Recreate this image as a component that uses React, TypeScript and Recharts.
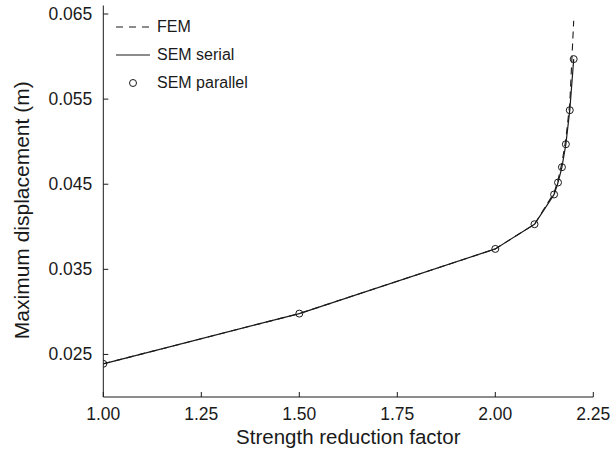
import { LineChart, Line, XAxis, YAxis, Legend } from 'recharts';

// strength reduction factor vs maximum displacement
const factors = [1.0, 1.5, 2.0, 2.1, 2.15, 2.16, 2.17, 2.18, 2.19, 2.2];
const femDisp = [0.0239, 0.0298, 0.0374, 0.0403, 0.044, 0.0455, 0.0475, 0.0503, 0.0545, 0.0642];
const serialDisp = [0.0239, 0.0298, 0.0374, 0.0403, 0.0438, 0.0452, 0.047, 0.0497, 0.0537, 0.0597];
const parallelDisp = [0.0239, 0.0298, 0.0374, 0.0403, 0.0438, 0.0452, 0.047, 0.0497, 0.0537, 0.0597];

const xTicks = [1, 1.25, 1.5, 1.75, 2, 2.25];
const yTicks = [0.025, 0.035, 0.045, 0.055, 0.065];

const FONT = '"Liberation Sans", Arial, Helvetica, sans-serif';
const INK = '#1a1a1a';

const data = factors.map((x, i) => ({
  x,
  fem: femDisp[i],
  serial: serialDisp[i],
  parallel: parallelDisp[i],
}));

const legendItems = [
  { name: 'FEM', kind: 'dash' },
  { name: 'SEM serial', kind: 'solid' },
  { name: 'SEM parallel', kind: 'dot' },
];

function XTick({ x, y, payload }: any) {
  return (
    <g>
      <line x1={x} x2={x} y1={y} y2={y - 5} stroke={INK} strokeWidth={1} />
      <text x={x} y={y + 23} textAnchor="middle" fontSize={17.5} fill={INK} fontFamily={FONT}>
        {Number(payload.value).toFixed(2)}
      </text>
    </g>
  );
}

function YTick({ x, y, payload }: any) {
  return (
    <g>
      <line x1={x} x2={x + 5} y1={y} y2={y} stroke={INK} strokeWidth={1} />
      <text x={x - 11} y={y + 6} textAnchor="end" fontSize={17.5} fill={INK} fontFamily={FONT}>
        {Number(payload.value).toFixed(3)}
      </text>
    </g>
  );
}

function YTitle({ viewBox }: any) {
  const cy = viewBox.y + viewBox.height / 2 + 9;
  return (
    <text
      x={29}
      y={cy}
      transform={`rotate(-90 29 ${cy})`}
      textAnchor="middle"
      fontSize={21}
      fill={INK}
      fontFamily={FONT}
    >
      Maximum displacement (m)
    </text>
  );
}

function LegendBox() {
  return (
    <div style={{ fontFamily: FONT, fontSize: 16, color: INK }}>
      {legendItems.map((it) => (
        <div key={it.name} style={{ display: 'flex', alignItems: 'center', height: 28 }}>
          <svg width={41} height={14}>
            {it.kind === 'dash' && (
              <line x1={0} x2={34} y1={7} y2={7} stroke={INK} strokeWidth={1.2} strokeDasharray="7 6" />
            )}
            {it.kind === 'solid' && <line x1={0} x2={34} y1={7} y2={7} stroke={INK} strokeWidth={1.2} />}
            {it.kind === 'dot' && <circle cx={17} cy={7} r={3.5} fill="none" stroke={INK} strokeWidth={1} />}
          </svg>
          <span>{it.name}</span>
        </div>
      ))}
    </div>
  );
}

export default function App() {
  return (
    <div style={{ position: 'absolute', left: 0, top: 0, width: 611, height: 449, background: '#fff' }}>
      <LineChart
        width={611}
        height={449}
        data={data}
        margin={{ top: 5.5, right: 17.7, bottom: 0, left: 0 }}
      >
        <XAxis
          dataKey="x"
          type="number"
          domain={[1, 2.25]}
          ticks={xTicks}
          allowDataOverflow
          tickSize={0}
          tickMargin={0}
          tickLine={false}
          tick={<XTick />}
          height={52}
          axisLine={{ stroke: INK, strokeWidth: 1 }}
          label={{
            value: 'Strength reduction factor',
            position: 'insideBottom',
            offset: 5,
            fontSize: 20.5,
            fill: INK,
            fontFamily: FONT,
          }}
        />
        <YAxis
          type="number"
          domain={[0.02, 0.066]}
          ticks={yTicks}
          allowDataOverflow
          tickSize={0}
          tickMargin={0}
          tickLine={false}
          tick={<YTick />}
          width={103.3}
          axisLine={{ stroke: INK, strokeWidth: 1 }}
          label={<YTitle />}
        />
        <Legend
          layout="vertical"
          align="center"
          verticalAlign="middle"
          content={<LegendBox />}
          wrapperStyle={{ left: 116, top: 13, width: 200 }}
        />
        <Line
          dataKey="fem"
          stroke={INK}
          strokeWidth={1.1}
          strokeDasharray="7 5"
          dot={false}
          isAnimationActive={false}
        />
        <Line dataKey="serial" stroke={INK} strokeWidth={1.2} dot={false} isAnimationActive={false} />
        <Line
          dataKey="parallel"
          stroke="none"
          dot={{ r: 3.5, stroke: INK, strokeWidth: 1, fill: 'none' }}
          isAnimationActive={false}
        />
      </LineChart>
    </div>
  );
}
